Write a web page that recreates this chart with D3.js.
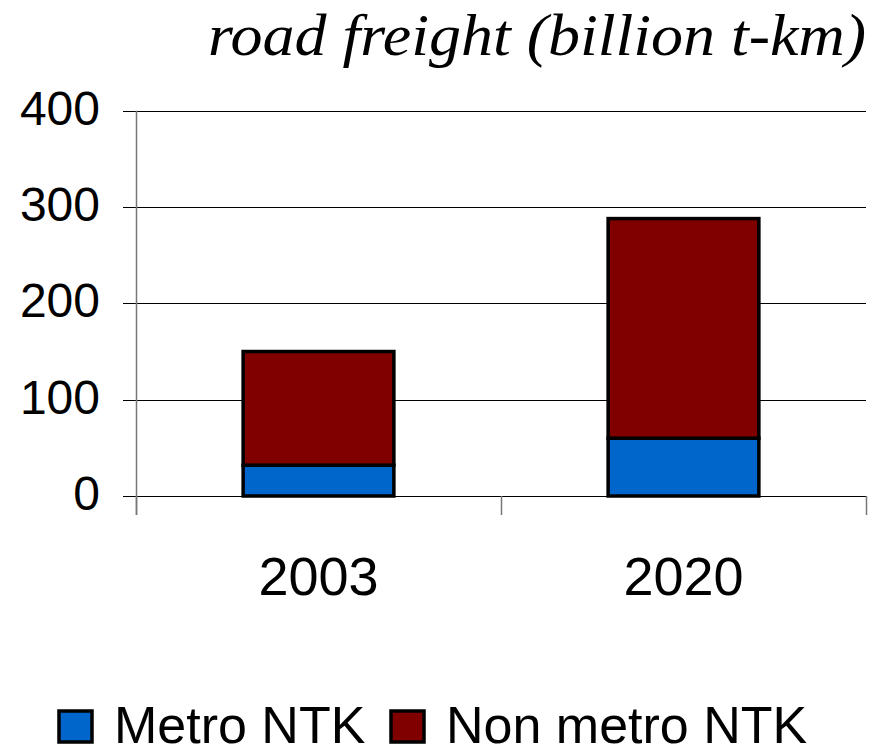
<!DOCTYPE html>
<html>
<head>
<meta charset="utf-8">
<script src="https://cdn.jsdelivr.net/npm/d3@7"></script>
<style>
  body { margin: 0; background: #fff; }
  svg { display: block; }
</style>
</head>
<body>
<script>
// data
var categories = ["2003", "2020"];
var seriesNames = ["Metro NTK", "Non metro NTK"];
var metro = [32, 60];
var nonMetro = [118, 228];
var yTicks = [0, 100, 200, 300, 400];
var colors = ["#0066cc", "#800000"];

var W = 884, H = 746;
var m = { left: 136, right: 866, top: 110.7, bottom: 496 };

var svg = d3.select("body").append("svg")
    .attr("width", W)
    .attr("height", H);

var x = d3.scaleBand()
    .domain(categories)
    .range([m.left, m.right])
    .paddingInner(0.587)
    .paddingOuter(0.2935);

var y = d3.scaleLinear()
    .domain([0, 400])
    .range([m.bottom, m.top]);

// gridlines
svg.append("g").selectAll("line")
    .data(yTicks)
    .enter().append("line")
    .attr("x1", m.left - 13)
    .attr("x2", m.right)
    .attr("y1", function (d) { return Math.round(y(d)) + 0.5; })
    .attr("y2", function (d) { return Math.round(y(d)) + 0.5; })
    .attr("stroke", "#000")
    .attr("stroke-width", 1.2);

// y axis line
svg.append("line")
    .attr("x1", m.left + 0.5).attr("x2", m.left + 0.5)
    .attr("y1", m.top).attr("y2", m.bottom + 19)
    .attr("stroke", "#777")
    .attr("stroke-width", 1.5);

// y labels
svg.append("g").selectAll("text")
    .data(yTicks)
    .enter().append("text")
    .text(function (d) { return d; })
    .attr("x", 100)
    .attr("y", function (d) { return y(d) + 14; })
    .attr("text-anchor", "end")
    .style("font-family", "Arial, 'Liberation Sans', sans-serif")
    .style("font-size", "48px");

// x axis category separators
var sep = [m.left, (m.left + m.right) / 2, m.right];
svg.append("g").selectAll("line")
    .data(sep)
    .enter().append("line")
    .attr("x1", function (d) { return d + 0.5; })
    .attr("x2", function (d) { return d + 0.5; })
    .attr("y1", m.bottom)
    .attr("y2", m.bottom + 19)
    .attr("stroke", "#777")
    .attr("stroke-width", 1.5);

// x labels
svg.append("g").selectAll("text")
    .data(categories)
    .enter().append("text")
    .text(function (d) { return d; })
    .attr("x", function (d) { return x(d) + x.bandwidth() / 2; })
    .attr("y", 595)
    .attr("text-anchor", "middle")
    .style("font-family", "Arial, 'Liberation Sans', sans-serif")
    .style("font-size", "54px");

// stacked bars
var rows = categories.map(function (c, i) {
    return { cat: c, metro: metro[i], nonMetro: nonMetro[i] };
});
var layers = d3.stack().keys(["metro", "nonMetro"])(rows);

svg.append("g").selectAll("g")
    .data(layers)
    .enter().append("g")
    .attr("fill", function (d, i) { return colors[i]; })
    .selectAll("rect")
    .data(function (d) { return d; })
    .enter().append("rect")
    .attr("x", function (d) { return x(d.data.cat); })
    .attr("width", x.bandwidth())
    .attr("y", function (d) { return y(d[1]); })
    .attr("height", function (d) { return y(d[0]) - y(d[1]); })
    .attr("stroke", "#000")
    .attr("stroke-width", 3.5);

// title
svg.append("text")
    .text("road freight (billion t-km)")
    .attr("x", 208)
    .attr("y", 55)
    .attr("textLength", 658)
    .attr("lengthAdjust", "spacingAndGlyphs")
    .style("font-family", "'Times New Roman', 'Liberation Serif', serif")
    .style("font-style", "italic")
    .style("font-size", "60px");

// legend
var legendX = [59, 391];
var lg = svg.append("g").selectAll("g")
    .data(seriesNames)
    .enter().append("g")
    .attr("transform", function (d, i) { return "translate(" + legendX[i] + ",711)"; });
lg.append("rect")
    .attr("width", 33)
    .attr("height", 31)
    .attr("fill", function (d, i) { return colors[i]; })
    .attr("stroke", "#000")
    .attr("stroke-width", 3.5);
lg.append("text")
    .text(function (d) { return d; })
    .attr("x", 55)
    .attr("y", 32)
    .style("font-family", "Arial, 'Liberation Sans', sans-serif")
    .style("font-size", "52px");
</script>
</body>
</html>
